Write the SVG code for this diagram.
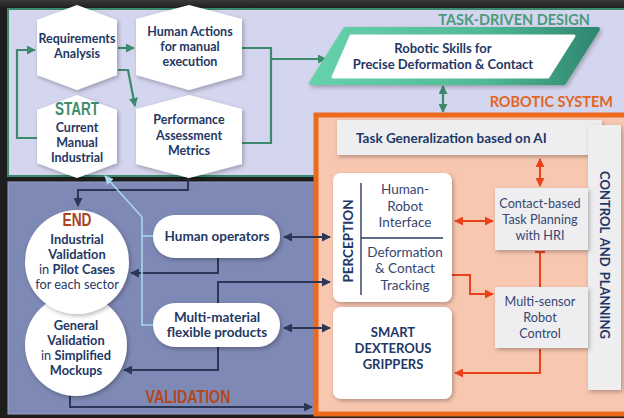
<svg xmlns="http://www.w3.org/2000/svg" width="624" height="418" viewBox="0 0 624 418">
  <defs>
    <style>
      .t { font-family: Lato, "Open Sans", "Liberation Sans", sans-serif; fill: #1f3865; text-anchor: middle; }
      .b { font-weight: 700; font-size: 12.5px; }
      .lg { font-size: 13.5px; }
      .cl { font-size: 12.8px; }
      .r { font-weight: 400; font-size: 13.5px; fill: #364670; }
      .rs { font-weight: 400; font-size: 12.7px; fill: #364670; }
      .cond { font-family: "Liberation Sans", Arial, sans-serif; font-weight: 700; font-size: 18px; text-anchor: middle; }
      .hdr { font-family: Lato, "Open Sans", "Liberation Sans", sans-serif; font-weight: 700; font-size: 14.5px; text-anchor: end; }
      .g { fill: none; stroke: #3b8a6d; stroke-width: 2.2; }
      .n { fill: none; stroke: #2c3657; stroke-width: 2; }
      .rd { fill: none; stroke: #e8411c; stroke-width: 2; }
      .lb { fill: none; stroke: #a8d8ec; stroke-width: 1.6; }
      .hex { fill: #ffffff; filter: url(#sh); }
      .box { fill: #eeeef1; filter: url(#sh); }
      .wbox { fill: #ffffff; filter: url(#sh); }
    </style>
    <filter id="sh" x="-20%" y="-20%" width="140%" height="140%">
      <feDropShadow dx="1.5" dy="2" stdDeviation="2" flood-color="#000" flood-opacity="0.28"/>
    </filter>
    <linearGradient id="skillG" x1="0" y1="0" x2="1" y2="0">
      <stop offset="0" stop-color="#66d2ab"/>
      <stop offset="0.6" stop-color="#50ba95"/>
      <stop offset="1" stop-color="#2f8670"/>
    </linearGradient>
    <linearGradient id="bgTop" x1="0" y1="0" x2="0" y2="1">
      <stop offset="0" stop-color="#3a3a3a"/>
      <stop offset="1" stop-color="#1c1c1c"/>
    </linearGradient>
    <marker id="ag" viewBox="0 0 10 10" refX="9" refY="5" markerWidth="9" markerHeight="9" markerUnits="userSpaceOnUse" orient="auto-start-reverse">
      <path d="M0,0 L10,5 L0,10 z" fill="#3b8a6d"/>
    </marker>
    <marker id="an" viewBox="0 0 10 10" refX="9" refY="5" markerWidth="9" markerHeight="9" markerUnits="userSpaceOnUse" orient="auto-start-reverse">
      <path d="M0,0 L10,5 L0,10 z" fill="#2c3657"/>
    </marker>
    <marker id="ar" viewBox="0 0 10 10" refX="9" refY="5" markerWidth="9" markerHeight="9" markerUnits="userSpaceOnUse" orient="auto-start-reverse">
      <path d="M0,0 L10,5 L0,10 z" fill="#e8411c"/>
    </marker>
    <marker id="al" viewBox="0 0 10 10" refX="9" refY="5" markerWidth="9" markerHeight="9" markerUnits="userSpaceOnUse" orient="auto-start-reverse">
      <path d="M0,0 L10,5 L0,10 z" fill="#a8d8ec"/>
    </marker>
  </defs>

  <!-- backdrop -->
  <rect x="0" y="0" width="624" height="418" fill="#1e1e1e"/>
  <rect x="0" y="0" width="624" height="9" fill="url(#bgTop)"/>

  <!-- design panel -->
  <rect x="8" y="9" width="640" height="167" fill="#d4d5ee" stroke="#3b8a6d" stroke-width="2"/>
  <!-- validation panel -->
  <rect x="8" y="182" width="320" height="232" fill="#7e89b5" stroke="#9aa3c6" stroke-width="1"/>
  <!-- robotic system panel -->
  <rect x="316" y="115" width="320" height="299" fill="#f8c7b0" stroke="#ec6a1e" stroke-width="5"/>

  <text class="hdr" x="590" y="25" style="fill:#4a9b7c">TASK-DRIVEN DESIGN</text>
  <text class="hdr" x="613" y="107" style="fill:#e2661f">ROBOTIC SYSTEM</text>
  <text class="cond" x="188" y="403" fill="#b2481d" textLength="85" lengthAdjust="spacingAndGlyphs">VALIDATION</text>

  <!-- connectors -->
  <g id="connectors">
    <!-- design loop (green) -->
    <path class="g" d="M37,138 H17 V50 H35" marker-end="url(#ag)"/>
    <path class="g" d="M118,48 H134" marker-end="url(#ag)"/>
    <path class="g" d="M118,70 H128 L135,106" marker-end="url(#ag)"/>
    <path class="g" d="M242,48 H271 V143 H242"/>
    <path class="g" d="M271,59 H326" marker-end="url(#ag)"/>
    <path class="g" d="M443,86 V112" marker-start="url(#ag)" marker-end="url(#ag)"/>

    <!-- validation (navy) -->
    <path class="n" d="M188,176 V190 H78 V206" marker-end="url(#an)"/>
    <path class="n" d="M218,258 V273 H131" marker-end="url(#an)"/>
    <path class="n" d="M218,303 V282 H330" marker-end="url(#an)"/>
    <path class="n" d="M218,347 V370 H124" marker-end="url(#an)"/>
    <path class="n" d="M284,237 H330" marker-start="url(#an)" marker-end="url(#an)"/>
    <path class="n" d="M284,328 H330" marker-start="url(#an)" marker-end="url(#an)"/>
    <path class="n" d="M70,394 V407 H312" marker-end="url(#an)"/>

    <!-- feedback to design (light blue) -->
    <path class="lb" d="M153,325 H142 V217 L105,176" marker-end="url(#al)"/>
    <path class="lb" d="M153,236 H142"/>

    <!-- robotic system (red) -->
    <path class="rd" d="M540,159 V186" marker-start="url(#ar)" marker-end="url(#ar)"/>
    <path class="rd" d="M455,221 H493" marker-start="url(#ar)" marker-end="url(#ar)"/>
    <path class="rd" d="M452,275 H470 V294 H493" marker-end="url(#ar)"/>
    <path class="rd" d="M540,287 V252 M535,252 H545"/>
    <path class="rd" d="M540,349 V373 H455" marker-end="url(#ar)"/>
  </g>

  <!-- design nodes -->
  <g id="requirements">
    <polygon class="hex" points="77,5 117,20 117,75 77,90 37,75 37,20"/>
    <text class="t b" x="77" y="43">Requirements</text>
    <text class="t b" x="77" y="58">Analysis</text>
  </g>
  <g id="human-actions">
    <polygon class="hex" points="189,5 242,19 242,75 189,90 136,75 136,19"/>
    <text class="t b" x="190" y="36">Human Actions</text>
    <text class="t b" x="190" y="51">for manual</text>
    <text class="t b" x="190" y="66">execution</text>
  </g>
  <g id="start">
    <polygon class="hex" points="77,95 117,110 117,163 77,178 37,163 37,110"/>
    <text class="cond" x="77" y="115" fill="#3e8e6d" textLength="44" lengthAdjust="spacingAndGlyphs">START</text>
    <text class="t b" x="77" y="132">Current</text>
    <text class="t b" x="77" y="147">Manual</text>
    <text class="t b" x="77" y="162">Industrial</text>
  </g>
  <g id="performance">
    <polygon class="hex" points="189,95 242,109 242,164 189,178 136,164 136,109"/>
    <text class="t b" x="189" y="124">Performance</text>
    <text class="t b" x="189" y="140">Assessment</text>
    <text class="t b" x="189" y="155">Metrics</text>
  </g>
  <g id="robotic-skills">
    <polygon points="311,83 345,29 598,29 564,83" fill="url(#skillG)" stroke="url(#skillG)" stroke-width="4" stroke-linejoin="round" filter="url(#sh)"/>
    <polygon points="333,77 351,36 574,36 548,77" fill="#ffffff" stroke="#ffffff" stroke-width="3" stroke-linejoin="round"/>
    <text class="t b" x="443" y="53" style="font-size:13px">Robotic Skills for</text>
    <text class="t b" x="443" y="69" style="font-size:13px">Precise Deformation &amp; Contact</text>
  </g>

  <!-- validation nodes -->
  <g id="general-validation">
    <circle cx="76" cy="345" r="51" fill="#ffffff" filter="url(#sh)"/>
    <text class="t b cl" x="76" y="330">General</text>
    <text class="t b cl" x="76" y="345">Validation</text>
    <text class="t b cl" x="76" y="360"><tspan style="font-weight:400">in </tspan>Simplified</text>
    <text class="t b cl" x="76" y="375">Mockups</text>
  </g>
  <g id="industrial-validation">
    <circle cx="77" cy="262" r="52" fill="#ffffff" filter="url(#sh)"/>
    <text class="cond" x="77" y="226" fill="#a8431c" textLength="29" lengthAdjust="spacingAndGlyphs">END</text>
    <text class="t b cl" x="77" y="243.5">Industrial</text>
    <text class="t b cl" x="77" y="258.5">Validation</text>
    <text class="t b cl" x="77" y="273.5"><tspan style="font-weight:400">in </tspan>Pilot Cases</text>
    <text class="t b cl" x="77" y="288.5" style="font-weight:400">for each sector</text>
  </g>
  <g id="human-operators">
    <rect x="153" y="215" width="127" height="43" rx="21.5" fill="#ffffff" filter="url(#sh)"/>
    <text class="t b lg" x="217" y="241">Human operators</text>
  </g>
  <g id="multi-material">
    <rect x="153" y="303" width="127" height="44" rx="22" fill="#ffffff" filter="url(#sh)"/>
    <text class="t b lg" x="217" y="322">Multi-material</text>
    <text class="t b lg" x="217" y="337">flexible products</text>
  </g>

  <!-- robotic system nodes -->
  <g id="task-generalization">
    <rect class="box" x="337" y="120" width="265" height="35"/>
    <text class="t b" x="356" y="143" style="text-anchor:start;font-size:13.5px">Task Generalization based on AI</text>
  </g>
  <g id="control-planning">
    <rect class="box" x="588" y="125" width="33" height="265"/>
    <text class="t b" transform="translate(600,255) rotate(90)" x="0" y="0" style="font-size:13px;word-spacing:2px">CONTROL AND PLANNING</text>
  </g>
  <g id="perception">
    <rect class="wbox" x="333" y="173" width="119" height="129" rx="8"/>
    <text class="t b" transform="translate(353,241) rotate(-90)" x="0" y="0" style="font-size:13.5px">PERCEPTION</text>
    <path d="M361,183 V295 M361,238 H443" stroke="#2c3a63" stroke-width="1.4" fill="none"/>
    <text class="t r" x="405" y="194">Human-</text>
    <text class="t r" x="405" y="211">Robot</text>
    <text class="t r" x="405" y="227">Interface</text>
    <text class="t r" x="405" y="257">Deformation</text>
    <text class="t r" x="405" y="273">&amp; Contact</text>
    <text class="t r" x="405" y="290">Tracking</text>
  </g>
  <g id="grippers">
    <rect class="wbox" x="333" y="307" width="119" height="92" rx="8"/>
    <text class="t b" x="393" y="337" style="font-size:13px">SMART</text>
    <text class="t b" x="393" y="353" style="font-size:13px">DEXTEROUS</text>
    <text class="t b" x="393" y="369" style="font-size:13px">GRIPPERS</text>
  </g>
  <g id="task-planning">
    <rect class="box" x="495" y="188" width="93" height="62"/>
    <text class="t rs" x="540" y="208">Contact-based</text>
    <text class="t rs" x="540" y="224">Task Planning</text>
    <text class="t rs" x="540" y="240">with HRI</text>
  </g>
  <g id="robot-control">
    <rect class="box" x="495" y="287" width="93" height="61"/>
    <text class="t rs" x="540" y="306">Multi-sensor</text>
    <text class="t rs" x="540" y="322">Robot</text>
    <text class="t rs" x="540" y="338">Control</text>
  </g>
</svg>
